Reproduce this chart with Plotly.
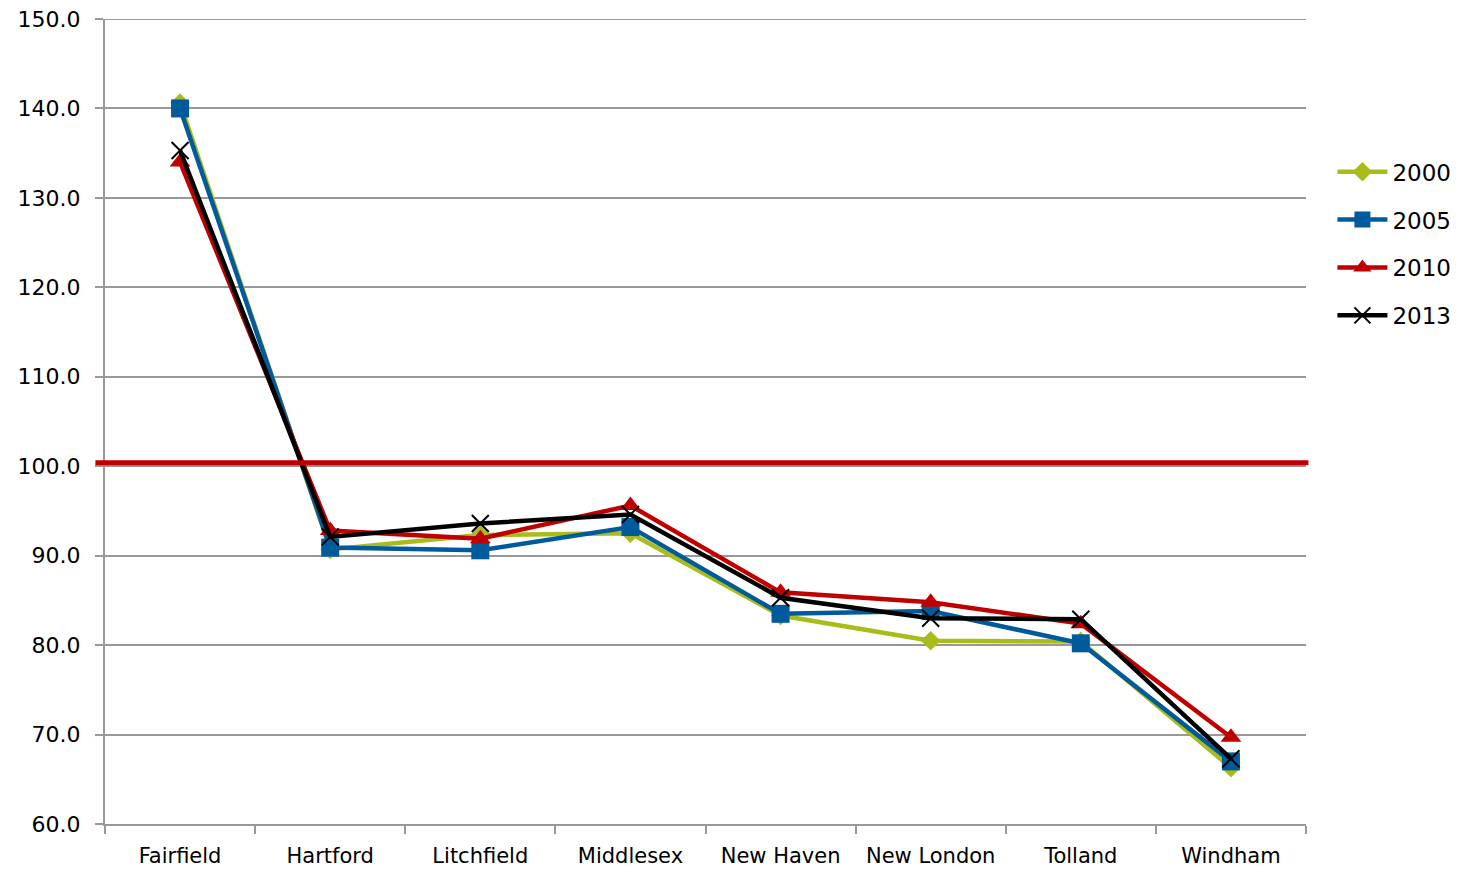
import plotly.graph_objects as go

counties = ["Fairfield", "Hartford", "Litchfield", "Middlesex", "New Haven",
            "New London", "Tolland", "Windham"]

vals_2000 = [140.6, 90.7, 92.3, 92.5, 83.3, 80.5, 80.4, 66.3]
vals_2005 = [140.0, 90.9, 90.6, 93.2, 83.5, 83.8, 80.2, 67.0]
vals_2010 = [134.0, 92.8, 91.9, 95.6, 85.9, 84.8, 82.4, 69.7]
vals_2013 = [135.3, 92.1, 93.6, 94.6, 85.3, 83.0, 82.9, 67.3]

state_level = 100.4
y_min, y_max = 60, 150

series = [
    ("2000", vals_2000, "#A8BC1A", dict(symbol="diamond", size=15)),
    ("2005", vals_2005, "#005A9C", dict(symbol="square", size=18)),
    ("2010", vals_2010, "#C00000", dict(symbol="triangle-up", size=18)),
    ("2013", vals_2013, "#000000", dict(symbol="x-thin-open", size=17,
                                        line=dict(width=2, color="#000000"))),
]

fig = go.Figure()
for name, vals, color, marker in series:
    m = dict(color=color, **marker)
    fig.add_trace(go.Scatter(
        x=counties, y=vals, name=name, legendgroup=name,
        mode="lines+markers",
        line=dict(color=color, width=4.5), marker=m,
    ))

grid_color = "#999999"

# Top gridline at the upper end of the axis range
fig.add_shape(type="line", xref="paper", yref="y", x0=0, x1=1,
              y0=y_max, y1=y_max, line=dict(color=grid_color, width=2),
              layer="below")

# County-to-state reference line
fig.add_shape(type="line", xref="paper", yref="y", x0=-0.008, x1=1.002,
              y0=state_level, y1=state_level,
              line=dict(color="#C00000", width=5), layer="above")

font_family = "DejaVu Sans"
fig.update_layout(
    width=1462, height=869,
    margin=dict(l=105, r=156, t=19, b=45, autoexpand=False),
    paper_bgcolor="white", plot_bgcolor="white",
    font=dict(family=font_family, size=21, color="#000000"),
    showlegend=True,
    legend=dict(x=1.022, y=0.837, xanchor="left", yanchor="top",
                font=dict(size=23), tracegroupgap=15, itemwidth=50,
                bgcolor="rgba(0,0,0,0)"),
    xaxis=dict(
        type="category", range=[-0.5, 7.5], showgrid=False,
        showline=True, linecolor=grid_color, linewidth=2,
        ticks="outside", tickson="boundaries", ticklen=8,
        tickcolor=grid_color, tickwidth=2, tickfont=dict(size=21),
        ticklabelstandoff=12,
    ),
    yaxis=dict(
        range=[y_min, y_max], dtick=10, tick0=60, tickformat=".1f",
        showgrid=True, gridcolor=grid_color, gridwidth=1.5,
        showline=True, linecolor=grid_color, linewidth=2,
        ticks="outside", ticklen=8, tickcolor=grid_color, tickwidth=2,
        tickfont=dict(size=22), zeroline=False, ticklabelstandoff=10,
    ),
)

fig.write_html("out.html")
